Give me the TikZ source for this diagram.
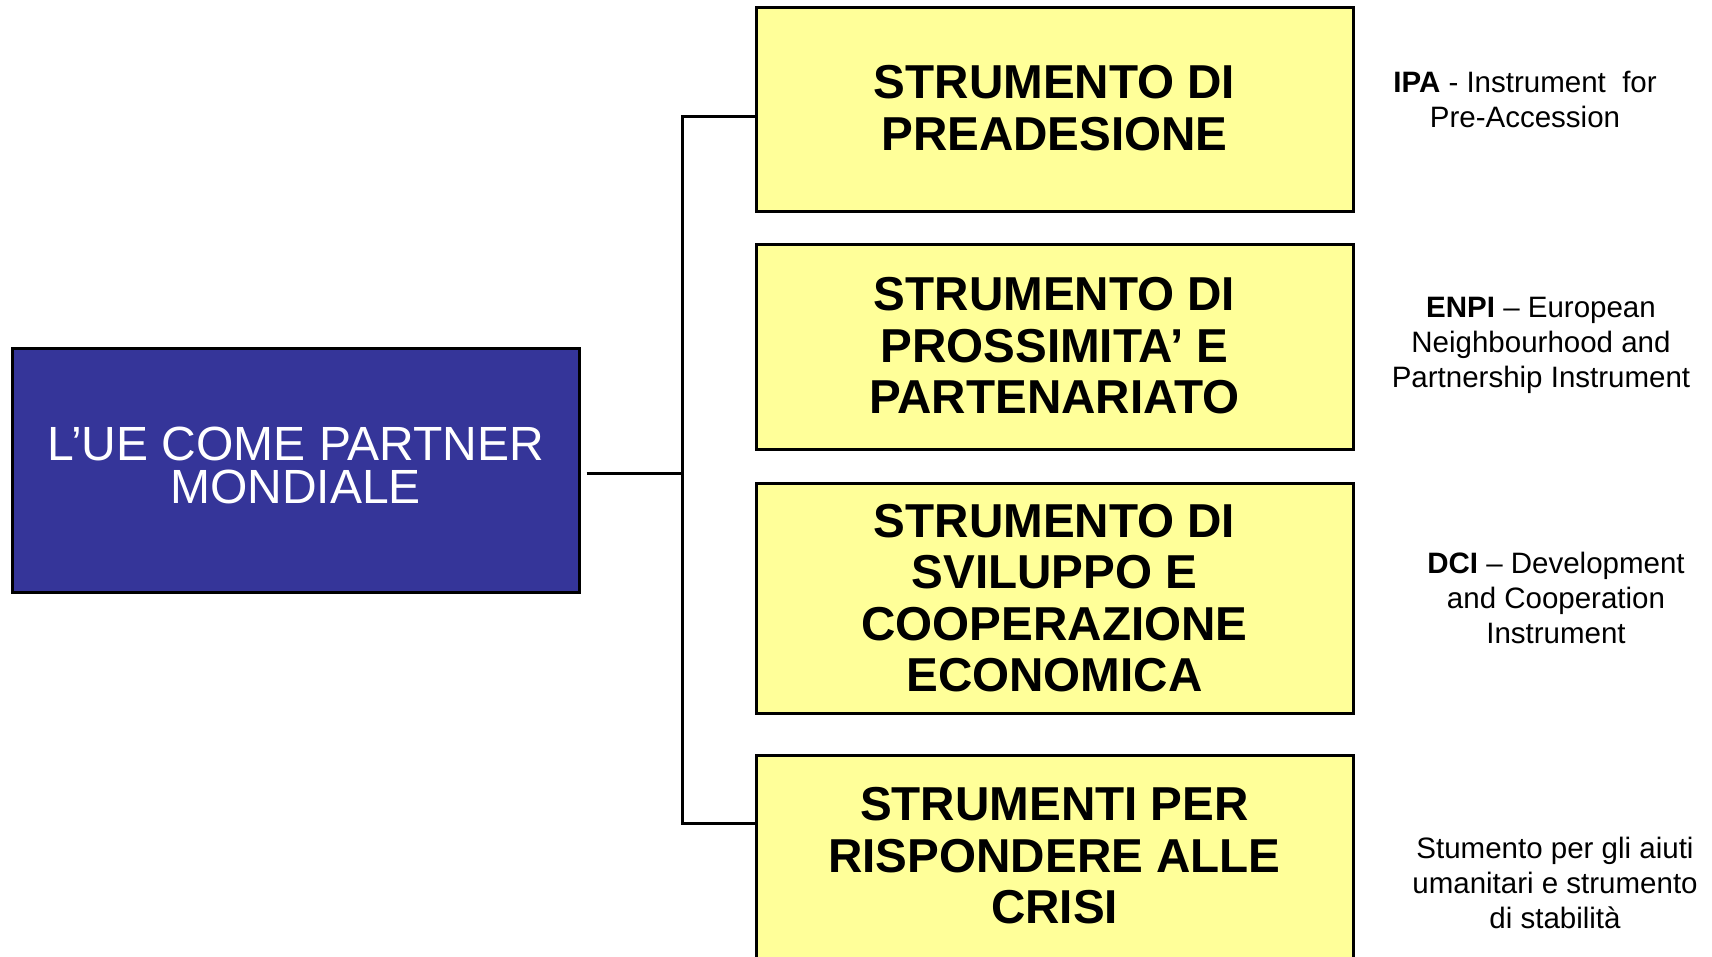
\documentclass[tikz,border=0pt]{standalone}
\usepackage{fontspec}
\setmainfont{Liberation Sans}
\definecolor{ueblue}{HTML}{353599}
\definecolor{ueyellow}{HTML}{FFFF99}
\tikzset{
  bluebox/.style={draw=black, line width=1.5pt, fill=ueblue, inner sep=0pt,
    minimum width=283.5pt, minimum height=122pt},
  bluetext/.style={text=white, align=center, inner sep=0pt,
    font=\fontsize{24pt}{21.5pt}\selectfont},
  ybox/.style={draw=black, line width=1.5pt, fill=ueyellow, inner sep=0pt,
    minimum width=298.5pt},
  ytext/.style={text=black, align=center, inner sep=0pt,
    font=\fontsize{23.8pt}{25.75pt}\selectfont\bfseries},
  note/.style={align=center, inner sep=0pt, font=\fontsize{14.75pt}{17.5pt}\selectfont},
  conn/.style={draw=black, line width=1.5pt}
}
\begin{document}
\begin{tikzpicture}[x=0.5pt,y=-0.5pt]
\useasboundingbox (0,0) rectangle (1712,957);
\node[bluebox] (ue) at (295.5,470) {};
\node[bluetext] (uet) at (295.5,465.5) {L’UE COME PARTNER\\MONDIALE};
\node[ybox, minimum height=102pt] (b1) at (1054.5,110) {};
\node[ybox, minimum height=102pt] (b2) at (1054.5,347) {};
\node[ybox, minimum height=115pt] (b3) at (1054.5,598) {};
\node[ybox, minimum height=105pt] (b4) at (1054.5,860) {};
\node[ytext] (t1) at (1054.5,108) {STRUMENTO DI\\PREADESIONE};
\node[ytext] (t2) at (1054.5,346) {STRUMENTO DI\\PROSSIMITA’ E\\PARTENARIATO};
\node[ytext] (t3) at (1054.5,598) {STRUMENTO DI\\SVILUPPO E\\COOPERAZIONE\\ECONOMICA};
\node[ytext] (t4) at (1054.5,856) {STRUMENTI PER\\RISPONDERE ALLE\\CRISI};
\node[note] (n1) at (1525,99) {\textbf{IPA} - Instrument\ \ for\\Pre-Accession};
\node[note] (n2) at (1541,345.5) {\textbf{ENPI} – European\\Neighbourhood and\\Partnership Instrument};
\node[note] (n3) at (1556,598) {\textbf{DCI} – Development\\and Cooperation\\Instrument};
\node[note] (n4) at (1555,883) {Stumento per gli aiuti\\umanitari e strumento\\di stabilità};
\coordinate (j) at (682,473);
\draw[conn] ([xshift=3pt,yshift=-1.5pt]ue.east) -- (j);
\draw[conn] ([yshift=-3.5pt]b1.west) -| (j) |- ([yshift=18.5pt]b4.west);
\end{tikzpicture}
\end{document}
